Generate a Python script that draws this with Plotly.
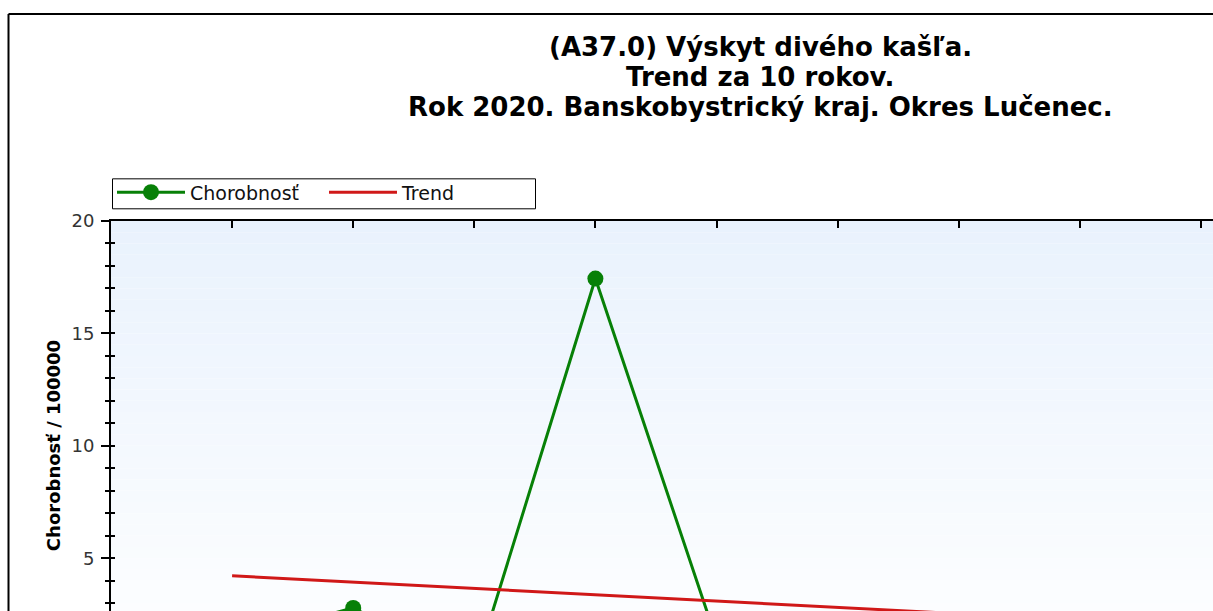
import plotly.graph_objects as go

# ---- data ----
years = [2011, 2012, 2013, 2014, 2015, 2016, 2017, 2018, 2019, 2020]
chorobnost = [1.35, 2.79, 0.0, 17.44, 1.37, 0.0, 1.35, 0.0, 1.35, 2.7]
trend_years = [2011, 2020]
trend_values = [4.22, 1.69]

title_lines = [
    "(A37.0) Výskyt divého kašľa.",
    "Trend za 10 rokov.",
    "Rok 2020. Banskobystrický kraj. Okres Lučenec.",
]
y_title = "Chorobnosť / 100000"
y_ticks = [5, 10, 15, 20]

# ---- layout geometry (pixels) ----
OFF = 0                      # page margin removed below
W, H = 1213, 611
L = 111 - OFF
T = 220.7 - OFF
PW, PH = W - L, H - T
PX_PER_YEAR = 121.1
PX_PER_UNIT = 22.5
x_range = [2010, 2010 + PW / PX_PER_YEAR]
y_range = [20 - PH / PX_PER_UNIT, 20]


def pxx(px):
    """reference screen x -> paper x"""
    return (px - OFF - L) / PW


def pxy(py):
    """reference screen y -> paper y"""
    return (H - (py - OFF)) / PH


fig = go.Figure()

fig.add_trace(go.Scatter(
    x=years, y=chorobnost, name="Chorobnosť", mode="lines+markers",
    line=dict(color="#078007", width=3),
    marker=dict(color="#078007", size=16, symbol="circle"),
))
fig.add_trace(go.Scatter(
    x=trend_years, y=trend_values, name="Trend", mode="lines",
    line=dict(color="#D01818", width=3),
))
# invisible trace to carry the inside (crossing) ticks on the y axis
fig.add_trace(go.Scatter(x=[years[0]], y=[y_ticks[0]], yaxis="y2",
                         showlegend=False, hoverinfo="skip",
                         mode="markers", marker=dict(opacity=0)))

shapes = []
# plot-area gradient: light blue at top fading to white
n = 40
c_top = (233, 242, 253)
c_bot = (255, 255, 255)
y_bot_grad = 0.0
for i in range(n):
    y0 = y_bot_grad + (20 - y_bot_grad) * i / n
    y1 = y_bot_grad + (20 - y_bot_grad) * (i + 1) / n
    t = (i + 0.5) / n
    col = tuple(round(c_bot[k] + (c_top[k] - c_bot[k]) * t) for k in range(3))
    shapes.append(dict(type="rect", xref="paper", yref="y", x0=0, x1=1,
                       y0=y0, y1=y1, layer="below", line=dict(width=0),
                       fillcolor="rgb(%d,%d,%d)" % col))
# outer chart frame (only top and left edges are inside the window)
shapes.append(dict(type="line", xref="paper", yref="paper",
                   x0=pxx(8.5), x1=pxx(1230), y0=pxy(13.5), y1=pxy(13.5),
                   line=dict(color="black", width=2), layer="above"))
shapes.append(dict(type="line", xref="paper", yref="paper",
                   x0=pxx(8.5), x1=pxx(8.5), y0=pxy(13.5), y1=pxy(640),
                   line=dict(color="black", width=2), layer="above"))
# legend box
shapes.append(dict(type="rect", xref="paper", yref="paper",
                   x0=pxx(112.5), x1=pxx(535.5), y0=pxy(208.5), y1=pxy(178.5),
                   line=dict(color="black", width=1), fillcolor="white",
                   layer="above"))

annotations = []
for i, line in enumerate(title_lines):
    annotations.append(dict(
        text=line, xref="paper", yref="paper", x=pxx(760), y=pxy(47 + 30 * i),
        xanchor="center", yanchor="middle", showarrow=False,
        font=dict(family="DejaVu Sans", size=26, color="black", weight="bold"),
    ))
annotations.append(dict(
    text=y_title, xref="paper", yref="paper", x=pxx(53), y=pxy(446),
    xanchor="center", yanchor="middle", showarrow=False, textangle=-90,
    font=dict(family="DejaVu Sans", size=18, color="black", weight="bold"),
))

fig.update_layout(
    width=W, height=H,
    margin=dict(l=L, r=0, t=T, b=0, pad=0),
    paper_bgcolor="white", plot_bgcolor="white",
    showlegend=True,
    legend=dict(
        orientation="h", x=pxx(112), y=pxy(173), xanchor="left", yanchor="top",
        bgcolor="rgba(0,0,0,0)", borderwidth=0,
        font=dict(family="DejaVu Sans", size=19, color="#111"),
        entrywidth=129, entrywidthmode="pixels", itemwidth=68,
        tracegroupgap=0,
    ),
    xaxis=dict(
        range=x_range, side="top", showgrid=False, zeroline=False,
        showline=True, linecolor="black", linewidth=1.5,
        ticks="inside", ticklen=7, tickwidth=1.5, tickcolor="black",
        tick0=2010, dtick=1, showticklabels=False,
    ),
    yaxis=dict(
        range=y_range, showgrid=False, zeroline=False,
        showline=True, linecolor="black", linewidth=2,
        ticks="outside", ticklen=8, tickwidth=1.5, tickcolor="black",
        tickvals=y_ticks, ticklabelstandoff=3,
        tickfont=dict(family="DejaVu Sans", size=18, color="#333"),
        minor=dict(ticks="outside", ticklen=4, tickwidth=1.5, tickcolor="black", dtick=1),
    ),
    yaxis2=dict(
        range=y_range, overlaying="y", side="left", anchor="x",
        showgrid=False, zeroline=False, showline=False,
        ticks="inside", ticklen=4, tickwidth=1.5, tickcolor="black",
        tickvals=y_ticks, showticklabels=False,
        minor=dict(ticks="inside", ticklen=4, tickwidth=1.5, tickcolor="black", dtick=1),
    ),
    shapes=shapes,
    annotations=annotations,
)

fig.write_html(
    "out.html",
    config={"displayModeBar": False},
    post_script="document.body.style.margin='0';"
                "document.documentElement.style.overflow='hidden';"
                "document.body.style.overflow='hidden';",
)
